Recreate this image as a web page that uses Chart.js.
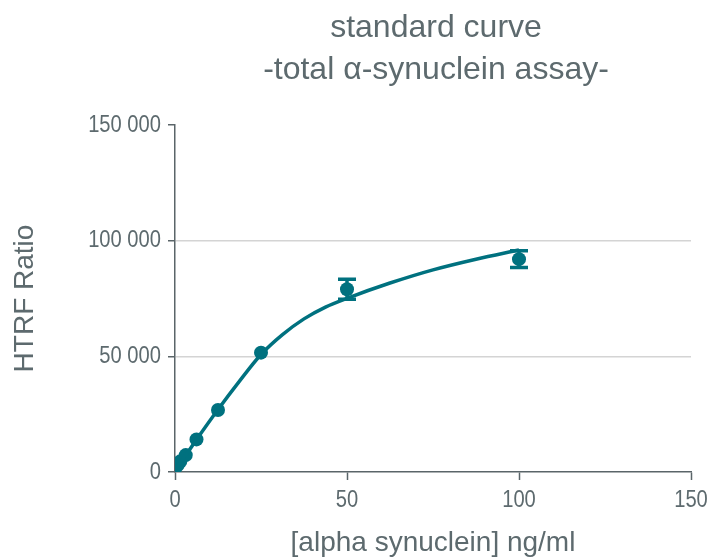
<!DOCTYPE html>
<html>
<head>
<meta charset="utf-8">
<script src="https://cdn.jsdelivr.net/npm/chart.js@4"></script>
<style>
  html, body { margin: 0; padding: 0; background: #fff; }
  #wrap { width: 710px; height: 560px; }
</style>
</head>
<body>
<div id="wrap"><canvas id="curveChart" width="710" height="560"></canvas></div>
<script>
// measured standards
const concentrations = [0, 0.78, 1.56, 3.125, 6.25, 12.5, 25, 50, 100];
const ratios = [1500, 3000, 4600, 7300, 14100, 26800, 51600, 79000, 92000];
const errors = [0, 0, 0, 0, 0, 0, 0, 4300, 3600];

// fitted curve
const fitX = [0, 3.125, 6.25, 12.5, 18.75, 25, 31.25, 37.5, 43.75, 50, 62.5, 75, 87.5, 100];
const fitY = [1300, 7300, 14000, 27000, 39300, 50800, 59400, 66200, 71300, 75100, 81700, 87400, 92000, 96000];

const xTicks = [0, 50, 100, 150];
const yTicks = [0, 50000, 100000, 150000];
const titleLines = ["standard curve", "-total \u03b1-synuclein assay-"];

const teal = "#00717f";
const textGray = "#5d6a6e";
const axisGray = "#5a6569";
const tickFont = "24px 'Liberation Sans', Arial, sans-serif";
const squeeze = 0.84; // tick labels in the original are a condensed face

const titlePlugin = {
  id: "topTitle",
  afterDraw(chart) {
    const ctx = chart.ctx;
    const cx = (chart.chartArea.left + chart.chartArea.right) / 2 + 3;
    ctx.save();
    ctx.fillStyle = textGray;
    ctx.font = "32px 'Liberation Sans', Arial, sans-serif";
    ctx.textAlign = "center";
    ctx.textBaseline = "middle";
    ctx.fillText(titleLines[0], cx, 28);
    ctx.fillText(titleLines[1], cx, 70);
    ctx.restore();
  }
};

// draws the tick labels narrower than the font allows
const narrowTicks = {
  id: "narrowTicks",
  afterDraw(chart) {
    const ctx = chart.ctx;
    const xs = chart.scales.x;
    const ys = chart.scales.y;
    ctx.save();
    ctx.fillStyle = textGray;
    ctx.font = tickFont;
    ctx.textBaseline = "middle";
    xs.ticks.forEach((t) => {
      ctx.save();
      ctx.translate(xs.getPixelForValue(t.value), xs.top + 28);
      ctx.scale(squeeze, 1);
      ctx.textAlign = "center";
      ctx.fillText(String(t.value), 0, 0);
      ctx.restore();
    });
    ys.ticks.forEach((t) => {
      ctx.save();
      ctx.translate(ys.right - 14, ys.getPixelForValue(t.value));
      ctx.scale(squeeze, 1);
      ctx.textAlign = "right";
      ctx.fillText(fmt(t.value), 0, 0);
      ctx.restore();
    });
    ctx.restore();
  }
};

const errorBarPlugin = {
  id: "errorBars",
  afterDatasetsDraw(chart) {
    const ctx = chart.ctx;
    const xs = chart.scales.x;
    const ys = chart.scales.y;
    ctx.save();
    ctx.strokeStyle = teal;
    ctx.lineWidth = 3.5;
    concentrations.forEach((c, i) => {
      if (!errors[i]) return;
      const px = xs.getPixelForValue(c);
      const top = ys.getPixelForValue(ratios[i] + errors[i]);
      const bot = ys.getPixelForValue(ratios[i] - errors[i]);
      ctx.beginPath();
      ctx.moveTo(px, top);
      ctx.lineTo(px, bot);
      ctx.moveTo(px - 9, top);
      ctx.lineTo(px + 9, top);
      ctx.moveTo(px - 9, bot);
      ctx.lineTo(px + 9, bot);
      ctx.stroke();
    });
    ctx.restore();
  }
};

const fmt = (v) => String(v).replace(/\B(?=(\d{3})+(?!\d))/g, " ");

new Chart(document.getElementById("curveChart").getContext("2d"), {
  type: "scatter",
  data: {
    datasets: [
      {
        label: "fit",
        type: "line",
        data: fitX.map((x, i) => ({ x: x, y: fitY[i] })),
        borderColor: teal,
        borderWidth: 3.5,
        pointRadius: 0,
        fill: false,
        cubicInterpolationMode: "monotone"
      },
      {
        label: "standards",
        data: concentrations.map((x, i) => ({ x: x, y: ratios[i] })),
        backgroundColor: teal,
        borderColor: teal,
        pointRadius: 7,
        borderWidth: 0
      }
    ]
  },
  options: {
    responsive: false,
    animation: false,
    layout: { padding: { top: 125, right: 19, left: 0, bottom: 0 } },
    plugins: { legend: { display: false }, tooltip: { enabled: false } },
    scales: {
      x: {
        type: "linear",
        min: 0,
        max: 150,
        afterBuildTicks: (s) => { s.ticks = xTicks.map((v) => ({ value: v })); },
        afterFit: (s) => { s.height = 88; },
        border: { display: true, color: axisGray, width: 1.5 },
        grid: { drawOnChartArea: false, drawTicks: true, tickLength: 8, tickColor: axisGray, tickWidth: 1.5 },
        ticks: {
          color: "rgba(0,0,0,0)",
          padding: 6,
          font: { family: "'Liberation Sans', Arial, sans-serif", size: 8 }
        },
        title: {
          display: true,
          text: "[alpha synuclein] ng/ml",
          color: textGray,
          padding: { top: 0, bottom: 0 },
          font: { family: "'Liberation Sans', Arial, sans-serif", size: 28 }
        }
      },
      y: {
        min: 0,
        max: 150000,
        afterBuildTicks: (s) => { s.ticks = yTicks.map((v) => ({ value: v })); },
        afterFit: (s) => { s.width = 175; },
        border: { display: true, color: axisGray, width: 1.5 },
        grid: {
          drawTicks: true,
          tickLength: 7,
          tickColor: axisGray,
          tickWidth: 1.5,
          lineWidth: 1.5,
          color: (c) => (c.tick && (c.tick.value === 50000 || c.tick.value === 100000)) ? "#d4d4d4" : "rgba(0,0,0,0)"
        },
        ticks: {
          color: "rgba(0,0,0,0)",
          padding: 5,
          callback: (v) => fmt(v),
          font: { family: "'Liberation Sans', Arial, sans-serif", size: 8 }
        },
        title: {
          display: true,
          text: "HTRF Ratio",
          color: textGray,
          padding: { top: 8, bottom: 0 },
          font: { family: "'Liberation Sans', Arial, sans-serif", size: 28 }
        }
      }
    }
  },
  plugins: [titlePlugin, errorBarPlugin, narrowTicks]
});
</script>
</body>
</html>
